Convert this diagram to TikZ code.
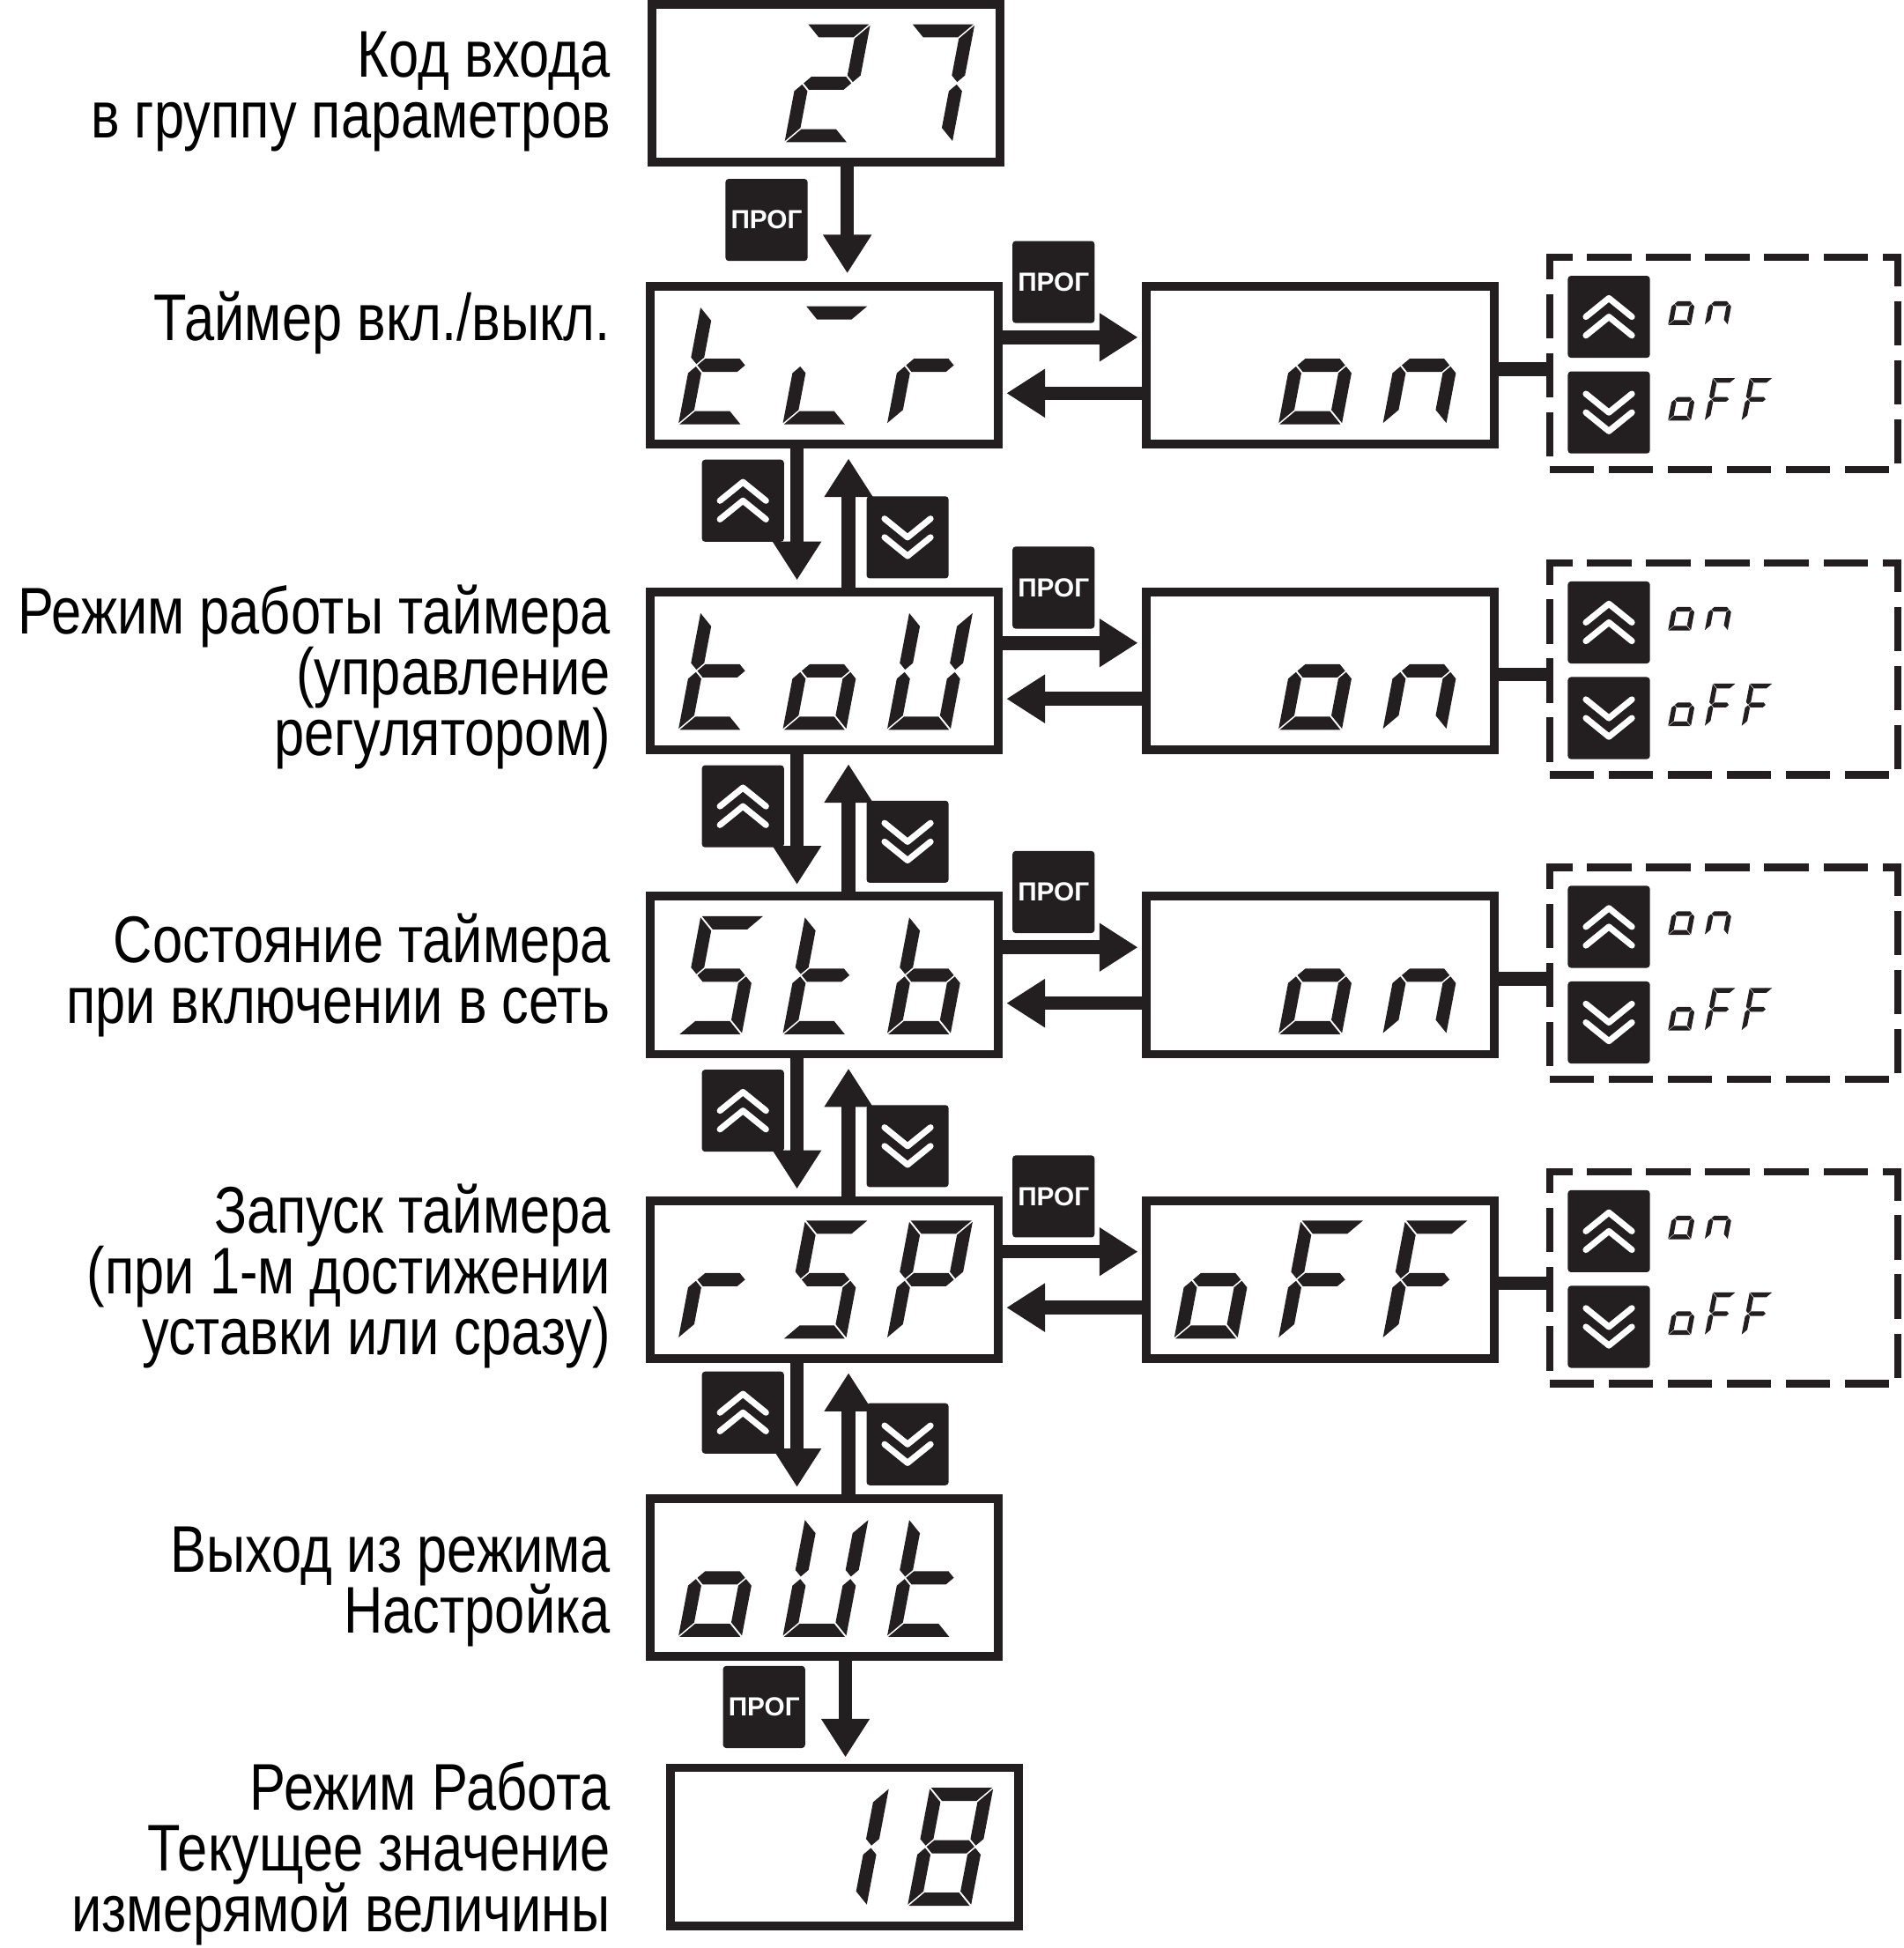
\documentclass[tikz,border=0pt]{standalone}
\usepackage{fontspec}
\setmainfont{Liberation Sans}[FakeStretch=0.82]
\newfontfamily\keyfont{Liberation Sans}
\usetikzlibrary{arrows.meta}
\definecolor{ink}{RGB}{35,31,32}
\newcommand{\tightlines}{\lineskiplimit=-30pt\relax}

% segments of one indicator digit, 51 x 95, origin bottom left
\newcommand{\sga}{\fill[ink] (1,95) -- (50,95) -- (39.4,84.4) -- (11.6,84.4) -- cycle;}
\newcommand{\sgb}{\fill[ink] (51,94) -- (51,53.8) -- (45.7,48.5) -- (40.4,53.8) -- (40.4,83.4) -- cycle;}
\newcommand{\sgc}{\fill[ink] (51,1) -- (51,41.2) -- (45.7,46.5) -- (40.4,41.2) -- (40.4,11.6) -- cycle;}
\newcommand{\sgd}{\fill[ink] (1,0) -- (50,0) -- (39.4,10.6) -- (11.6,10.6) -- cycle;}
\newcommand{\sge}{\fill[ink] (0,1) -- (0,41.2) -- (5.3,46.5) -- (10.6,41.2) -- (10.6,11.6) -- cycle;}
\newcommand{\sgf}{\fill[ink] (0,94) -- (0,53.8) -- (5.3,48.5) -- (10.6,53.8) -- (10.6,83.4) -- cycle;}
\newcommand{\sgg}{\fill[ink] (6.3,47.5) -- (11.6,52.8) -- (39.4,52.8) -- (44.7,47.5) -- (39.4,42.2) -- (11.6,42.2) -- cycle;}

\newcommand{\sevenseg}[4]{% x, baseline y, scale, segments
  \begin{scope}[shift={(#1,#2)}, scale=#3, yscale=-1, xslant=-0.19]
    \foreach \s in #4 {\csname sg\s\endcsname}
  \end{scope}}
\newcommand{\showtext}[5]{% first x, baseline y, scale, pitch, characters
  \foreach \ch [count=\k from 0] in {#5} {\sevenseg{#1+#4*\k}{#2}{#3}{\ch}}}

\newcommand{\upkey}[2]{% name, position
  \node[keybox] (#1) at (#2) {};
  \draw[chev] ([shift={(-18.5,0)}]#1.center) -- ++(18.5,-15) -- ++(18.5,15);
  \draw[chev] ([shift={(-18.5,15)}]#1.center) -- ++(18.5,-15) -- ++(18.5,15);}
\newcommand{\downkey}[2]{% name, position
  \node[keybox] (#1) at (#2) {};
  \draw[chev] ([shift={(-18.5,-15)}]#1.center) -- ++(18.5,15) -- ++(18.5,-15);
  \draw[chev] ([shift={(-18.5,0)}]#1.center) -- ++(18.5,15) -- ++(18.5,-15);}

\begin{document}
\begin{tikzpicture}[x=0.01cm, y=-0.01cm,
    display/.style={draw=ink, line width=0.07cm, minimum width=2.8cm, minimum height=1.27cm, inner sep=0pt},
    optbox/.style={draw=ink, line width=0.06cm, dash pattern=on 0.355cm off 0.12cm, minimum width=2.8cm, minimum height=1.706cm, inner sep=0pt},
    keybox/.style={fill=ink, rounded corners=0.025cm, minimum size=0.66cm, inner sep=0pt},
    progkey/.style={keybox, text=white, font=\keyfont\bfseries\fontsize{6}{7}\selectfont},
    chev/.style={draw=white, line width=0.05cm, line cap=round, line join=round},
    flow/.style={draw=ink, line width=0.11cm, -{Triangle[width=0.37cm, length=0.31cm]}},
    link/.style={draw=ink, line width=0.11cm},
    lbl/.style={anchor=east, align=right, inner sep=0pt, font=\fontsize{15.1}{13.9}\selectfont\tightlines}
  ]
  \useasboundingbox (0,0) rectangle (1532,1568);

  % captions
  \node[lbl] (lcode) at (492,74) {Код входа\\в группу параметров};
  \node[lbl] (ltlr) at (492,260) {Таймер вкл./выкл.};
  \node[lbl] (ltou) at (492,545) {Режим работы таймера\\(управление\\регулятором)};
  \node[lbl] (lstb) at (492,785) {Состояние таймера\\при включении в сеть};
  \node[lbl] (lrsp) at (492,1027) {Запуск таймера\\(при 1-м достижении\\уставки или сразу)};
  \node[lbl] (lout) at (492,1277) {Выход из режима\\Настройка};
  \node[lbl] (lrun) at (492,1492) {Режим Работа\\Текущее значение\\измерямой величины};

  % indicators
  \node[display] (code) at (665,67) {};
  \node[display] (tlr) at (663.5,294) {};
  \node[display] (tou) at (663.5,540) {};
  \node[display] (stb) at (663.5,785) {};
  \node[display] (rsp) at (663.5,1030) {};
  \node[display] (out) at (663.5,1270) {};
  \node[display] (run) at (680,1486.5) {};
  \node[display] (tlrval) at (1062.5,294) {};
  \node[display] (touval) at (1062.5,540) {};
  \node[display] (stbval) at (1062.5,785) {};
  \node[display] (rspval) at (1062.5,1030) {};
  \node[optbox] (tlropt) at (1387.5,292.5) {};
  \node[optbox] (touopt) at (1387.5,538.5) {};
  \node[optbox] (stbopt) at (1387.5,783.5) {};
  \node[optbox] (rspopt) at (1387.5,1028.5) {};

  % readings
  \showtext{631.5}{114.5}{1}{84}{{a,b,g,e,d},{a,b,c}}
  \showtext{546}{341.5}{1}{84}{{f,e,d,g},{a,e,d},{e,g}}
  \showtext{546}{587.5}{1}{84}{{f,e,d,g},{c,d,e,g},{b,c,d,e,f}}
  \showtext{546}{832.5}{1}{84}{{a,f,g,c,d},{f,e,d,g},{f,e,d,c,g}}
  \showtext{546}{1077.5}{1}{84}{{e,g},{a,f,g,c,d},{a,b,f,g,e}}
  \showtext{546}{1317.5}{1}{84}{{c,d,e,g},{b,c,d,e,f},{f,e,d,g}}
  \showtext{646.5}{1534}{1}{84}{{b,c},{a,b,c,d,e,f,g}}
  \showtext{1029}{341.5}{1}{84}{{c,d,e,g},{c,e,g}}
  \showtext{1029}{587.5}{1}{84}{{c,d,e,g},{c,e,g}}
  \showtext{1029}{832.5}{1}{84}{{c,d,e,g},{c,e,g}}
  \showtext{945}{1077.5}{1}{84}{{c,d,e,g},{a,e,f,g},{a,e,f,g}}

  % choices in the dashed frames
  \upkey{tlrup}{1295,255}
  \downkey{tlrdn}{1295,332}
  \upkey{touup}{1295,501}
  \downkey{toudn}{1295,578}
  \upkey{stbup}{1295,746}
  \downkey{stbdn}{1295,823}
  \upkey{rspup}{1295,991}
  \downkey{rspdn}{1295,1068}
  \showtext{1342.6}{261.5}{0.36}{29.6}{{c,d,e,g},{c,e,g}}
  \showtext{1342.6}{338.5}{0.36}{29.6}{{c,d,e,g},{a,e,f,g},{a,e,f,g}}
  \showtext{1342.6}{507.5}{0.36}{29.6}{{c,d,e,g},{c,e,g}}
  \showtext{1342.6}{584.5}{0.36}{29.6}{{c,d,e,g},{a,e,f,g},{a,e,f,g}}
  \showtext{1342.6}{752.5}{0.36}{29.6}{{c,d,e,g},{c,e,g}}
  \showtext{1342.6}{829.5}{0.36}{29.6}{{c,d,e,g},{a,e,f,g},{a,e,f,g}}
  \showtext{1342.6}{997.5}{0.36}{29.6}{{c,d,e,g},{c,e,g}}
  \showtext{1342.6}{1074.5}{0.36}{29.6}{{c,d,e,g},{a,e,f,g},{a,e,f,g}}

  % keys between the indicators
  \node[progkey] (prog0) at (617,177) {ПРОГ};
  \node[progkey] (prog1) at (848,227) {ПРОГ};
  \node[progkey] (prog2) at (848,473) {ПРОГ};
  \node[progkey] (prog3) at (848,718) {ПРОГ};
  \node[progkey] (prog4) at (848,963) {ПРОГ};
  \node[progkey] (prog5) at (615,1374) {ПРОГ};
  \upkey{up1}{598,403}
  \downkey{dn1}{730.5,432.5}
  \upkey{up2}{598,649}
  \downkey{dn2}{730.5,677.5}
  \upkey{up3}{598,894}
  \downkey{dn3}{730.5,922.5}
  \upkey{up4}{598,1137}
  \downkey{dn4}{730.5,1162.5}

  % transitions
  \draw[flow] ([shift={(17,0)}]code.south) -- ([shift={(18.5,-7)}]tlr.north);
  \draw[flow] ([shift={(-22,0)}]tlr.south) -- ([shift={(-22,-6)}]tou.north);
  \draw[flow] ([shift={(19.5,0)}]tou.north) -- ([shift={(19.5,8)}]tlr.south);
  \draw[flow] ([shift={(-22,0)}]tou.south) -- ([shift={(-22,-6)}]stb.north);
  \draw[flow] ([shift={(19.5,0)}]stb.north) -- ([shift={(19.5,8)}]tou.south);
  \draw[flow] ([shift={(-22,0)}]stb.south) -- ([shift={(-22,-6)}]rsp.north);
  \draw[flow] ([shift={(19.5,0)}]rsp.north) -- ([shift={(19.5,8)}]stb.south);
  \draw[flow] ([shift={(-22,0)}]rsp.south) -- ([shift={(-22,-6)}]out.north);
  \draw[flow] ([shift={(19.5,0)}]out.north) -- ([shift={(19.5,8)}]rsp.south);
  \draw[flow] ([shift={(17,0)}]out.south) -- ([shift={(0.5,-5)}]run.north);

  \draw[flow] ([shift={(0,-22.5)}]tlr.east) -- ([shift={(-3,-22.5)}]tlrval.west);
  \draw[flow] ([shift={(0,22.5)}]tlrval.west) -- ([shift={(3,22.5)}]tlr.east);
  \draw[flow] ([shift={(0,-22.5)}]tou.east) -- ([shift={(-3,-22.5)}]touval.west);
  \draw[flow] ([shift={(0,22.5)}]touval.west) -- ([shift={(3,22.5)}]tou.east);
  \draw[flow] ([shift={(0,-22.5)}]stb.east) -- ([shift={(-3,-22.5)}]stbval.west);
  \draw[flow] ([shift={(0,22.5)}]stbval.west) -- ([shift={(3,22.5)}]stb.east);
  \draw[flow] ([shift={(0,-22.5)}]rsp.east) -- ([shift={(-3,-22.5)}]rspval.west);
  \draw[flow] ([shift={(0,22.5)}]rspval.west) -- ([shift={(3,22.5)}]rsp.east);

  \draw[link] ([shift={(0,3)}]tlrval.east) -- ([shift={(0,4.5)}]tlropt.west);
  \draw[link] ([shift={(0,3)}]touval.east) -- ([shift={(0,4.5)}]touopt.west);
  \draw[link] ([shift={(0,3)}]stbval.east) -- ([shift={(0,4.5)}]stbopt.west);
  \draw[link] ([shift={(0,3)}]rspval.east) -- ([shift={(0,4.5)}]rspopt.west);
\end{tikzpicture}
\end{document}
